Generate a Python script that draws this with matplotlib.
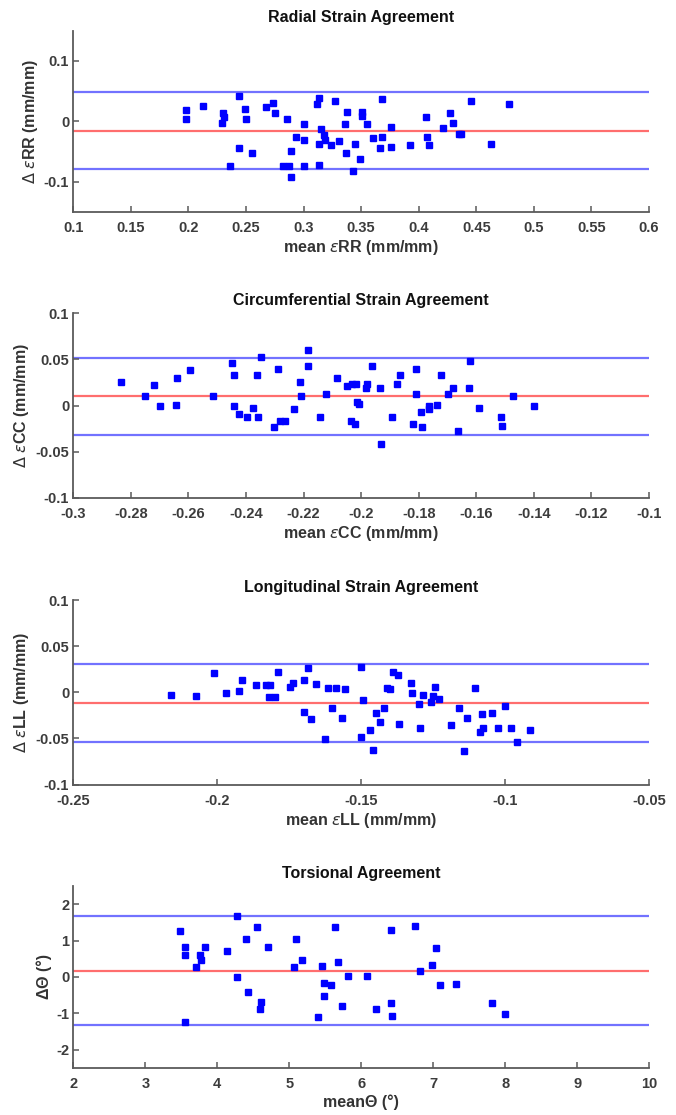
"""
Bland-Altman style agreement plots for radial, circumferential,
longitudinal strain and torsion (four stacked panels).
"""

import matplotlib
matplotlib.use('Agg')
import matplotlib.pyplot as plt
from matplotlib.ticker import FormatStrFormatter, MultipleLocator

plt.rcParams['font.family'] = ['Liberation Sans', 'DejaVu Sans']
plt.rcParams['axes.unicode_minus'] = False
plt.rcParams['mathtext.fontset'] = 'dejavusans'

# -----------------------------------------------------------------------
# Data
# -----------------------------------------------------------------------

rr_mean = [0.198, 0.198, 0.213, 0.230, 0.231, 0.229, 0.244, 0.249, 0.250, 0.244,
           0.255, 0.236, 0.267, 0.273, 0.275, 0.286, 0.282, 0.287, 0.289, 0.289,
           0.293, 0.300, 0.300, 0.300, 0.312, 0.313, 0.315, 0.313, 0.313, 0.318,
           0.319, 0.324, 0.327, 0.331, 0.336, 0.337, 0.338, 0.343, 0.345, 0.349,
           0.351, 0.351, 0.355, 0.360, 0.366, 0.368, 0.368, 0.376, 0.376, 0.392,
           0.406, 0.407, 0.409, 0.421, 0.427, 0.430, 0.435, 0.437, 0.445, 0.463,
           0.478]
rr_diff = [0.003, 0.019, 0.026, 0.013, 0.007, -0.003, 0.042, 0.021, 0.004, -0.044,
           -0.053, -0.074, 0.024, 0.030, 0.013, 0.003, -0.075, -0.075, -0.050, -0.093,
           -0.026, -0.005, -0.031, -0.075, 0.029, 0.038, -0.013, -0.037, -0.072, -0.023,
           -0.031, -0.039, 0.034, -0.033, -0.005, -0.052, 0.015, -0.083, -0.037, -0.063,
           0.015, 0.009, -0.005, -0.028, -0.045, 0.037, -0.026, -0.009, -0.042, -0.039,
           0.007, -0.026, -0.039, -0.011, 0.013, -0.003, -0.022, -0.022, 0.033, -0.037,
           0.028]
rr_limits = [0.049, -0.016, -0.080]   # upper LoA, bias, lower LoA

cc_mean = [-0.2833, -0.2751, -0.2719, -0.2700, -0.2644, -0.2639, -0.2593, -0.2515,
           -0.2450, -0.2441, -0.2441, -0.2423, -0.2396, -0.2376, -0.2362, -0.2358,
           -0.2348, -0.2302, -0.2288, -0.2281, -0.2265, -0.2232, -0.2214, -0.2209,
           -0.2186, -0.2186, -0.2144, -0.2121, -0.2084, -0.2050, -0.2036, -0.2032,
           -0.2022, -0.2018, -0.2014, -0.2008, -0.1985, -0.1980, -0.1962, -0.1934,
           -0.1930, -0.1894, -0.1875, -0.1865, -0.1820, -0.1811, -0.1810, -0.1792,
           -0.1788, -0.1765, -0.1764, -0.1736, -0.1723, -0.1697, -0.1682, -0.1663,
           -0.1626, -0.1622, -0.1589, -0.1516, -0.1511, -0.1471, -0.1400]
cc_diff = [0.026, 0.010, 0.022, 0.000, 0.001, 0.030, 0.038, 0.010,
           0.046, 0.033, 0.000, -0.009, -0.012, -0.003, 0.033, -0.012,
           0.053, -0.023, 0.040, -0.017, -0.017, -0.004, 0.026, 0.010,
           0.060, 0.043, -0.012, 0.013, 0.030, 0.021, -0.017, 0.023,
           -0.020, 0.023, 0.004, 0.002, 0.019, 0.023, 0.043, 0.019,
           -0.042, -0.012, 0.023, 0.033, -0.020, 0.040, 0.012, -0.007,
           -0.023, -0.004, -0.001, 0.001, 0.033, 0.013, 0.019, -0.028,
           0.019, 0.048, -0.003, -0.012, -0.022, 0.010, 0.000]
cc_limits = [0.052, 0.010, -0.032]

ll_mean = [-0.2160, -0.2075, -0.2010, -0.1969, -0.1923, -0.1913, -0.1866, -0.1830,
           -0.1818, -0.1822, -0.1801, -0.1788, -0.1749, -0.1737, -0.1698, -0.1684,
           -0.1657, -0.1698, -0.1676, -0.1624, -0.1615, -0.1603, -0.1587, -0.1566,
           -0.1555, -0.1500, -0.1494, -0.1500, -0.1471, -0.1458, -0.1448, -0.1434,
           -0.1420, -0.1412, -0.1401, -0.1388, -0.1373, -0.1369, -0.1328, -0.1323,
           -0.1300, -0.1295, -0.1286, -0.1258, -0.1249, -0.1243, -0.1230, -0.1188,
           -0.1160, -0.1142, -0.1133, -0.1105, -0.1086, -0.1081, -0.1076, -0.1044,
           -0.1026, -0.1002, -0.0979, -0.0960, -0.0914]
ll_diff = [-0.0025, -0.0040, 0.0216, -0.0011, 0.0018, 0.0133, 0.0076, 0.0076,
           0.0076, -0.0054, -0.0054, 0.0220, 0.0061, 0.0105, 0.0133, 0.0263,
           0.0090, -0.0209, -0.0285, -0.0501, 0.0047, -0.0166, 0.0047, -0.0283,
           0.0032, 0.0277, -0.0079, -0.0483, -0.0411, -0.0627, -0.0223, -0.0324,
           -0.0166, 0.0047, 0.0032, 0.0220, 0.0191, -0.0339, 0.0105, -0.0011,
           -0.0123, -0.0382, -0.0025, -0.0101, -0.0040, 0.0061, -0.0068, -0.0353,
           -0.0166, -0.0641, -0.0281, 0.0047, -0.0425, -0.0238, -0.0382, -0.0223,
           -0.0382, -0.0144, -0.0382, -0.0541, -0.0411]
ll_limits = [0.031, -0.011, -0.054]

tor_mean = [3.48, 3.555, 3.555, 3.555, 3.703, 3.754, 3.777, 3.833,
            4.13, 4.274, 4.274, 4.404, 4.422, 4.552, 4.608, 4.589,
            4.701, 5.072, 5.09, 5.183, 5.406, 5.462, 5.48, 5.48,
            5.575, 5.64, 5.677, 5.74, 5.814, 6.074, 6.204, 6.408,
            6.408, 6.427, 6.742, 6.817, 6.984, 7.039, 7.09, 7.313,
            7.814, 8.0]
tor_diff = [1.26, 0.82, 0.60, -1.24, 0.26, 0.60, 0.46, 0.82,
            0.71, 1.67, -0.01, 1.04, -0.41, 1.37, -0.70, -0.89,
            0.82, 0.27, 1.04, 0.46, -1.11, 0.31, -0.16, -0.52,
            -0.23, 1.37, 0.42, -0.81, 0.03, 0.03, -0.88, 1.30,
            -0.73, -1.07, 1.41, 0.17, 0.32, 0.79, -0.23, -0.19,
            -0.73, -1.03]
tor_limits = [1.67, 0.17, -1.33]

titles = ['Radial Strain Agreement', 'Circumferential Strain Agreement',
          'Longitudinal Strain Agreement', 'Torsional Agreement']
xlabels = [r'mean $\epsilon$RR (mm/mm)', r'mean $\epsilon$CC (mm/mm)',
           r'mean $\epsilon$LL (mm/mm)', 'mean\u0398 (\u00b0)']
ylabels = [r'$\Delta$ $\epsilon$RR (mm/mm)', r'$\Delta$ $\epsilon$CC (mm/mm)',
           r'$\Delta$ $\epsilon$LL (mm/mm)', '\u0394\u0398 (\u00b0)']

# -----------------------------------------------------------------------
# Plot helpers
# -----------------------------------------------------------------------

AX_COLOR = '#5a5a5a'
TICK_COLOR = '#3c3c3c'


def _agreement_panel(ax, x, y, limits, title, xlabel, ylabel,
                     xlim, xstep, ylim, ystep):
    ax.axhline(limits[0], color='#7272ff', lw=1.6, zorder=1)
    ax.axhline(limits[2], color='#7272ff', lw=1.6, zorder=1)
    ax.axhline(limits[1], color='#ff6e6e', lw=1.6, zorder=1)
    ax.plot(x, y, 's', color='#0000ff', ms=4.8, mec='#0000ff', zorder=3)

    ax.set_xlim(*xlim)
    ax.set_ylim(*ylim)
    ax.xaxis.set_major_locator(MultipleLocator(xstep))
    ax.yaxis.set_major_locator(MultipleLocator(ystep))
    ax.xaxis.set_major_formatter(FormatStrFormatter('%g'))
    ax.yaxis.set_major_formatter(FormatStrFormatter('%g'))

    for side in ('top', 'right'):
        ax.spines[side].set_visible(False)
    for side in ('left', 'bottom'):
        ax.spines[side].set_color(AX_COLOR)
        ax.spines[side].set_linewidth(1.3)

    ax.tick_params(axis='both', direction='in', length=4, width=1.1,
                   color=AX_COLOR, labelcolor=TICK_COLOR, labelsize=10.5)
    ax.tick_params(axis='x', pad=7)
    ax.tick_params(axis='y', pad=3)
    for lab in ax.get_xticklabels() + ax.get_yticklabels():
        lab.set_fontweight('bold')

    ax.set_title(title, fontsize=11.5, fontweight='bold', color='#111111', pad=6)
    ax.set_xlabel(xlabel, fontsize=11.5, fontweight='bold', color='#333333', labelpad=2)
    ax.set_ylabel(ylabel, fontsize=11.5, fontweight='bold', color='#333333', labelpad=3)


def main():
    fig = plt.figure(figsize=(6.76, 11.15), dpi=100)

    left, width = 0.1085, 0.8516
    boxes = [(0.8101, 0.1624), (0.5536, 0.1654), (0.2964, 0.1652), (0.0424, 0.1630)]
    axes = [fig.add_axes([left, b, width, h]) for b, h in boxes]

    _agreement_panel(axes[0], rr_mean, rr_diff, rr_limits, titles[0], xlabels[0],
                     ylabels[0], (0.1, 0.6), 0.05, (-0.15, 0.15), 0.1)
    _agreement_panel(axes[1], cc_mean, cc_diff, cc_limits, titles[1], xlabels[1],
                     ylabels[1], (-0.3, -0.1), 0.02, (-0.1, 0.1), 0.05)
    _agreement_panel(axes[2], ll_mean, ll_diff, ll_limits, titles[2], xlabels[2],
                     ylabels[2], (-0.25, -0.05), 0.05, (-0.1, 0.1), 0.05)
    _agreement_panel(axes[3], tor_mean, tor_diff, tor_limits, titles[3], xlabels[3],
                     ylabels[3], (2, 10), 1, (-2.5, 2.5), 1)

    fig.savefig('out.png', dpi=100)
    plt.close(fig)


if __name__ == '__main__':
    main()
